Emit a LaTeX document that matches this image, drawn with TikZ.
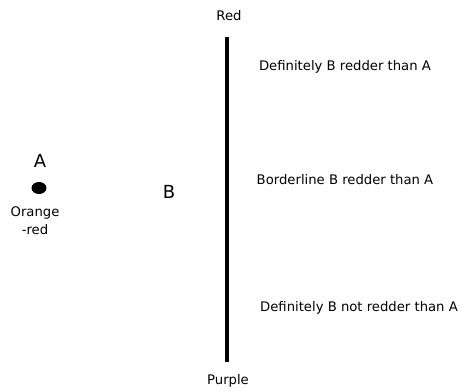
\documentclass[tikz,border=0pt]{standalone}
\usepackage{fontspec}
\setmainfont{DejaVu Sans}
\begin{document}
\begin{tikzpicture}[x=1pt,y=-1pt,
  lbl/.style={inner sep=0pt, font=\fontsize{13.2}{18}\selectfont},
  big/.style={inner sep=0pt, font=\fontsize{18}{22}\selectfont}]
\useasboundingbox (0,0) rectangle (461,391);
\node[lbl] (red) at (229,16) {Red};
\node[lbl] (purple) at (228,381) {Purple};
\coordinate (top) at (227,37);
\coordinate (bot) at (227,362);
\draw[line width=4pt] (top) -- (bot);
\node[big] (a) at (40,161) {A};
\fill (39,188) ellipse (7.5 and 6);
\node[lbl, align=center] (orange) at (35,221) {Orange\\-red};
\node[big] (b) at (169,192) {B};
\node[lbl] (d1) at (345,67) {Definitely B redder than A};
\node[lbl] (d2) at (345,180) {Borderline B redder than A};
\node[lbl] (d3) at (359,308) {Definitely B not redder than A};
\end{tikzpicture}
\end{document}
